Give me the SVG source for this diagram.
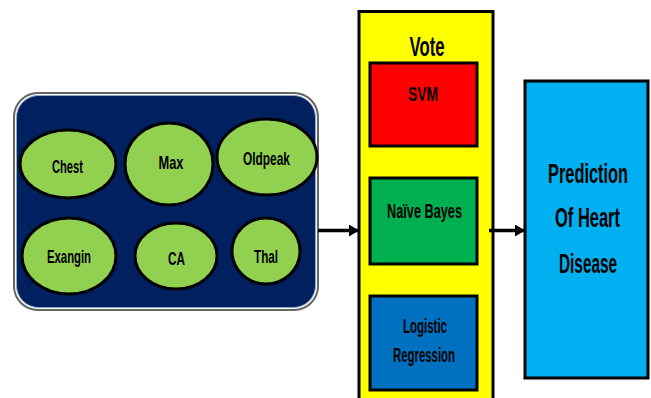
<svg xmlns="http://www.w3.org/2000/svg" width="651" height="398" viewBox="0 0 651 398">
<defs>
<style>
.t{font-family:"Liberation Sans",Arial,sans-serif;font-weight:bold;fill:#000;text-anchor:middle}
.s{font-size:19px}
.b{font-size:20px}
.l{font-size:27px}
.p{font-size:20px}
.ell{fill:#92D050;stroke:#000;stroke-width:3}
.box{stroke:#000;stroke-width:3}
.con{stroke:#000;stroke-width:3.5;fill:none}
</style>
<marker id="ah" viewBox="0 0 10 12" refX="9" refY="6" markerWidth="10" markerHeight="12" orient="auto" markerUnits="userSpaceOnUse">
<path d="M0,0 L10,6 L0,12 z" fill="#000"/>
</marker>
</defs>
<rect width="651" height="398" fill="#fff"/>

<g id="features">
<rect x="14" y="93" width="304" height="217" rx="24" fill="none" stroke="#666" stroke-width="2"/>
<rect x="16.5" y="95.5" width="299" height="212" rx="22" fill="#002060" stroke="#8ea9c8" stroke-width="1"/>
</g>
<g id="chest"><ellipse class="ell" cx="68" cy="164" rx="48" ry="34"/><text class="t s" x="67.5" y="173" textLength="31" lengthAdjust="spacingAndGlyphs">Chest</text></g>
<g id="max"><ellipse class="ell" cx="169" cy="164" rx="44" ry="41"/><text class="t s" x="171" y="169" textLength="25" lengthAdjust="spacingAndGlyphs">Max</text></g>
<g id="oldpeak"><ellipse class="ell" cx="267" cy="157" rx="50" ry="38"/><text class="t s" x="266.5" y="165" textLength="47" lengthAdjust="spacingAndGlyphs">Oldpeak</text></g>
<g id="exangin"><ellipse class="ell" cx="69" cy="256" rx="47" ry="38"/><text class="t s" x="69" y="263" textLength="44" lengthAdjust="spacingAndGlyphs">Exangin</text></g>
<g id="ca"><ellipse class="ell" cx="176" cy="256" rx="41" ry="33"/><text class="t s" x="176.5" y="265" textLength="17" lengthAdjust="spacingAndGlyphs">CA</text></g>
<g id="thal"><ellipse class="ell" cx="266" cy="251" rx="34" ry="33"/><text class="t s" x="266" y="263" textLength="24" lengthAdjust="spacingAndGlyphs">Thal</text></g>

<g id="vote">
<rect class="box" x="359" y="11.5" width="134" height="392" fill="#FFFF00"/>
<text class="t l" x="427" y="56" textLength="35" lengthAdjust="spacingAndGlyphs">Vote</text>
</g>
<g id="svm"><rect class="box" x="370" y="63" width="107" height="83" fill="#FF0000"/><text class="t b" x="423" y="101" textLength="30" lengthAdjust="spacingAndGlyphs">SVM</text></g>
<g id="nb"><rect class="box" x="370" y="178" width="107" height="86" fill="#00B050"/><text class="t b" x="424.5" y="218" textLength="75" lengthAdjust="spacingAndGlyphs">Naïve Bayes</text></g>
<g id="lr"><rect class="box" x="370" y="296" width="107" height="94" fill="#0070C0"/>
<text class="t b" x="425" y="333" textLength="44" lengthAdjust="spacingAndGlyphs">Logistic</text>
<text class="t b" x="424" y="362" textLength="62" lengthAdjust="spacingAndGlyphs">Regression</text></g>

<g id="prediction"><rect class="box" x="525" y="81" width="123" height="297" fill="#00B0F0"/>
<text class="t p" transform="translate(588,183) scale(1,1.38)" x="0" y="0" textLength="80" lengthAdjust="spacingAndGlyphs">Prediction</text>
<text class="t p" transform="translate(587.5,227) scale(1,1.38)" x="0" y="0" textLength="65" lengthAdjust="spacingAndGlyphs">Of Heart</text>
<text class="t p" transform="translate(588,273) scale(1,1.38)" x="0" y="0" textLength="58" lengthAdjust="spacingAndGlyphs">Disease</text></g>

<g id="connectors">
<line class="con" x1="318" y1="230.5" x2="358" y2="230.5" marker-end="url(#ah)"/>
<line class="con" x1="489" y1="230.5" x2="524" y2="230.5" marker-end="url(#ah)"/>
</g>
</svg>
